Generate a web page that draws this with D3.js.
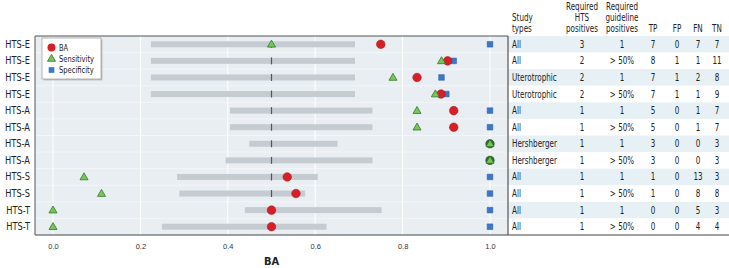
<!DOCTYPE html>
<html>
<head>
<meta charset="utf-8">
<script src="https://cdn.jsdelivr.net/npm/d3@7"></script>
<style>
  body { margin: 0; background: #fff; }
  svg { font-family: "DejaVu Sans Condensed", "DejaVu Sans", sans-serif; font-stretch: condensed; }
  .lbl { font-size: 10px; fill: #222; }
  .tick text { font-size: 7.5px; fill: #333; }
</style>
</head>
<body>
<script>
// Rows (top to bottom)
const assays = ["HTS-E", "HTS-E", "HTS-E", "HTS-E", "HTS-A", "HTS-A", "HTS-A", "HTS-A", "HTS-S", "HTS-S", "HTS-T", "HTS-T"];
// Grey range bars
const barLo = [0.224, 0.224, 0.224, 0.224, 0.405, 0.405, 0.449, 0.395, 0.284, 0.289, 0.439, 0.249];
const barHi = [0.691, 0.691, 0.691, 0.691, 0.731, 0.731, 0.651, 0.731, 0.606, 0.577, 0.752, 0.626];
// Markers
const ba = [0.75, 0.903, 0.833, 0.888, 0.917, 0.917, 1.0, 1.0, 0.536, 0.556, 0.5, 0.5];
const sens = [0.5, 0.889, 0.778, 0.875, 0.833, 0.833, 1.0, 1.0, 0.071, 0.111, 0.0, 0.0];
const spec = [1.0, 0.917, 0.889, 0.9, 1.0, 1.0, 1.0, 1.0, 1.0, 1.0, 1.0, 1.0];
// Table columns
const studyTypes = ["All", "All", "Uterotrophic", "Uterotrophic", "All", "All", "Hershberger", "Hershberger", "All", "All", "All", "All"];
const htsPos = ["3", "2", "2", "2", "1", "1", "1", "1", "1", "1", "1", "1"];
const guidePos = ["1", "> 50%", "1", "> 50%", "1", "> 50%", "1", "> 50%", "1", "> 50%", "1", "> 50%"];
const tp = [7, 8, 7, 7, 5, 5, 3, 3, 1, 1, 0, 0];
const fp = [0, 1, 1, 1, 0, 0, 0, 0, 0, 0, 0, 0];
const fn = [7, 1, 2, 1, 1, 1, 0, 0, 13, 8, 5, 4];
const tn = [7, 11, 8, 9, 7, 7, 3, 3, 3, 8, 3, 4];
const xTicks = [0, 0.2, 0.4, 0.6, 0.8, 1.0];

const w = 729, h = 268;
const plotL = 35, plotR = 508, plotT = 36, plotB = 235;
const sx = 0.8; // horizontal squeeze to mimic a condensed face

const svg = d3.select("body").append("svg").attr("width", w).attr("height", h);

const x = d3.scaleLinear().domain([0, 1]).range([53, 490]);
const y = d3.scaleBand().domain(d3.range(assays.length)).range([plotT, plotB]);
const cy = i => y(i) + y.bandwidth() / 2;

// Row stripes across the table
svg.append("g").selectAll("rect").data(assays).join("rect")
   .attr("x", plotR).attr("y", (d, i) => y(i))
   .attr("width", w - plotR).attr("height", y.bandwidth())
   .attr("fill", (d, i) => i % 2 === 0 ? "#e6f0f5" : "#fff");

// Plot background
svg.append("rect").attr("x", plotL).attr("y", plotT)
   .attr("width", plotR - plotL).attr("height", plotB - plotT)
   .attr("fill", "#e9eef3");

// Grid
svg.append("g").selectAll("line").data(xTicks).join("line")
   .attr("x1", d => x(d)).attr("x2", d => x(d))
   .attr("y1", plotT).attr("y2", plotB)
   .attr("stroke", "#fff").attr("stroke-width", 1);
svg.append("g").selectAll("line").data(d3.range(1, assays.length)).join("line")
   .attr("x1", plotL).attr("x2", plotR)
   .attr("y1", i => y(i)).attr("y2", i => y(i))
   .attr("stroke", "#f6f8fa").attr("stroke-width", 0.8);

// Grey bars
svg.append("g").selectAll("rect").data(assays).join("rect")
   .attr("x", (d, i) => x(barLo[i])).attr("y", (d, i) => cy(i) - 3)
   .attr("width", (d, i) => x(barHi[i]) - x(barLo[i])).attr("height", 6)
   .attr("fill", "#c4ccd2");

// Dashed reference at 0.5
svg.append("g").selectAll("line").data(assays).join("line")
   .attr("x1", x(0.5)).attr("x2", x(0.5))
   .attr("y1", (d, i) => cy(i) - 3.5).attr("y2", (d, i) => cy(i) + 3.5)
   .attr("stroke", "#555").attr("stroke-width", 1.2);

// Frame
svg.append("line").attr("x1", plotL).attr("x2", plotR).attr("y1", plotT).attr("y2", plotT).attr("stroke", "#555").attr("stroke-width", 1.2);
svg.append("line").attr("x1", plotL).attr("x2", w).attr("y1", plotB).attr("y2", plotB).attr("stroke", "#444").attr("stroke-width", 1.2);
svg.append("line").attr("x1", plotL).attr("x2", plotL).attr("y1", plotT).attr("y2", plotB).attr("stroke", "#555").attr("stroke-width", 1);
svg.append("line").attr("x1", plotR).attr("x2", plotR).attr("y1", plotT).attr("y2", plotB).attr("stroke", "#555").attr("stroke-width", 1.2);

// Markers
const tri = d3.symbol().type(d3.symbolTriangle).size(28);
const sqr = d3.symbol().type(d3.symbolSquare).size(32);

svg.append("g").selectAll("path").data(spec).join("path")
   .attr("d", sqr).attr("transform", (d, i) => `translate(${x(d)},${cy(i)})`)
   .attr("fill", "#3a78c8").attr("stroke", "#2a5a9a").attr("stroke-width", 0.5);

svg.append("g").selectAll("circle").data(ba).join("circle")
   .attr("cx", d => x(d)).attr("cy", (d, i) => cy(i)).attr("r", 4.3)
   .attr("fill", (d, i) => ba[i] === sens[i] ? "#2f6b2a" : "#d81e27")
   .attr("stroke", (d, i) => ba[i] === sens[i] ? "#234f20" : "#a0141b").attr("stroke-width", 0.5);

svg.append("g").selectAll("path").data(sens).join("path")
   .attr("d", tri).attr("transform", (d, i) => `translate(${x(d)},${cy(i) + 0.5})`)
   .attr("fill", "#7cc35a").attr("stroke", "#2f7a2a").attr("stroke-width", 0.8);

// Row labels
svg.append("g").selectAll("text").data(assays).join("text")
   .attr("class", "lbl").attr("text-anchor", "end")
   .attr("transform", (d, i) => `translate(30,${cy(i) + 3.5}) scale(0.92,1)`)
   .text(d => d);

// X axis
const xAxis = d3.axisBottom(x).tickValues(xTicks).tickFormat(d3.format(".1f")).tickSize(0).tickPadding(9);
svg.append("g").attr("transform", `translate(0,${plotB})`).call(xAxis)
   .call(g => g.select(".domain").remove());
svg.append("text").attr("x", x(0.5)).attr("y", 265).attr("text-anchor", "middle")
   .attr("font-weight", "bold").attr("font-size", "11px").attr("fill", "#222").text("BA");

// Legend
const leg = svg.append("g").attr("transform", "translate(42,38)");
leg.append("rect").attr("x", 1.5).attr("y", 1.5).attr("width", 59).attr("height", 41).attr("fill", "#999").attr("opacity", 0.5);
leg.append("rect").attr("width", 59).attr("height", 41).attr("fill", "#fff").attr("stroke", "#888").attr("stroke-width", 0.6);
leg.append("circle").attr("cx", 9.5).attr("cy", 9.5).attr("r", 4).attr("fill", "#d81e27");
leg.append("path").attr("d", tri).attr("transform", "translate(9.5,21)").attr("fill", "#7cc35a").attr("stroke", "#2f7a2a").attr("stroke-width", 0.8);
leg.append("path").attr("d", sqr).attr("transform", "translate(9.5,32)").attr("fill", "#3a78c8");
leg.selectAll("text.l").data(["BA", "Sensitivity", "Specificity"]).join("text")
   .attr("font-size", "8.5px").attr("fill", "#222")
   .attr("transform", (d, i) => `translate(17,${12.5 + i * 11.3}) scale(0.88,1)`)
   .text(d => d);

// Table
const cols = [
  { vals: studyTypes, x: 512, anchor: "start", head: ["", "Study", "types"] },
  { vals: htsPos, x: 582, anchor: "middle", head: ["Required", "HTS", "positives"] },
  { vals: guidePos, x: 622, anchor: "middle", head: ["Required", "guideline", "positives"] },
  { vals: tp, x: 653, anchor: "middle", head: ["", "", "TP"] },
  { vals: fp, x: 677, anchor: "middle", head: ["", "", "FP"] },
  { vals: fn, x: 698, anchor: "middle", head: ["", "", "FN"] },
  { vals: tn, x: 717, anchor: "middle", head: ["", "", "TN"] }
];
const headY = [10, 21, 32];
cols.forEach(c => {
  const g = svg.append("g");
  g.selectAll("text.v").data(c.vals).join("text")
   .attr("class", "lbl").attr("text-anchor", c.anchor)
   .attr("transform", (d, i) => `translate(${c.x},${cy(i) + 3.5}) scale(${sx},1)`)
   .text(d => d);
  g.selectAll("text.h").data(c.head).join("text")
   .attr("class", "lbl").attr("text-anchor", c.anchor)
   .attr("transform", (d, i) => `translate(${c.x},${headY[i]}) scale(${sx},1)`)
   .text(d => d);
});
</script>
</body>
</html>
